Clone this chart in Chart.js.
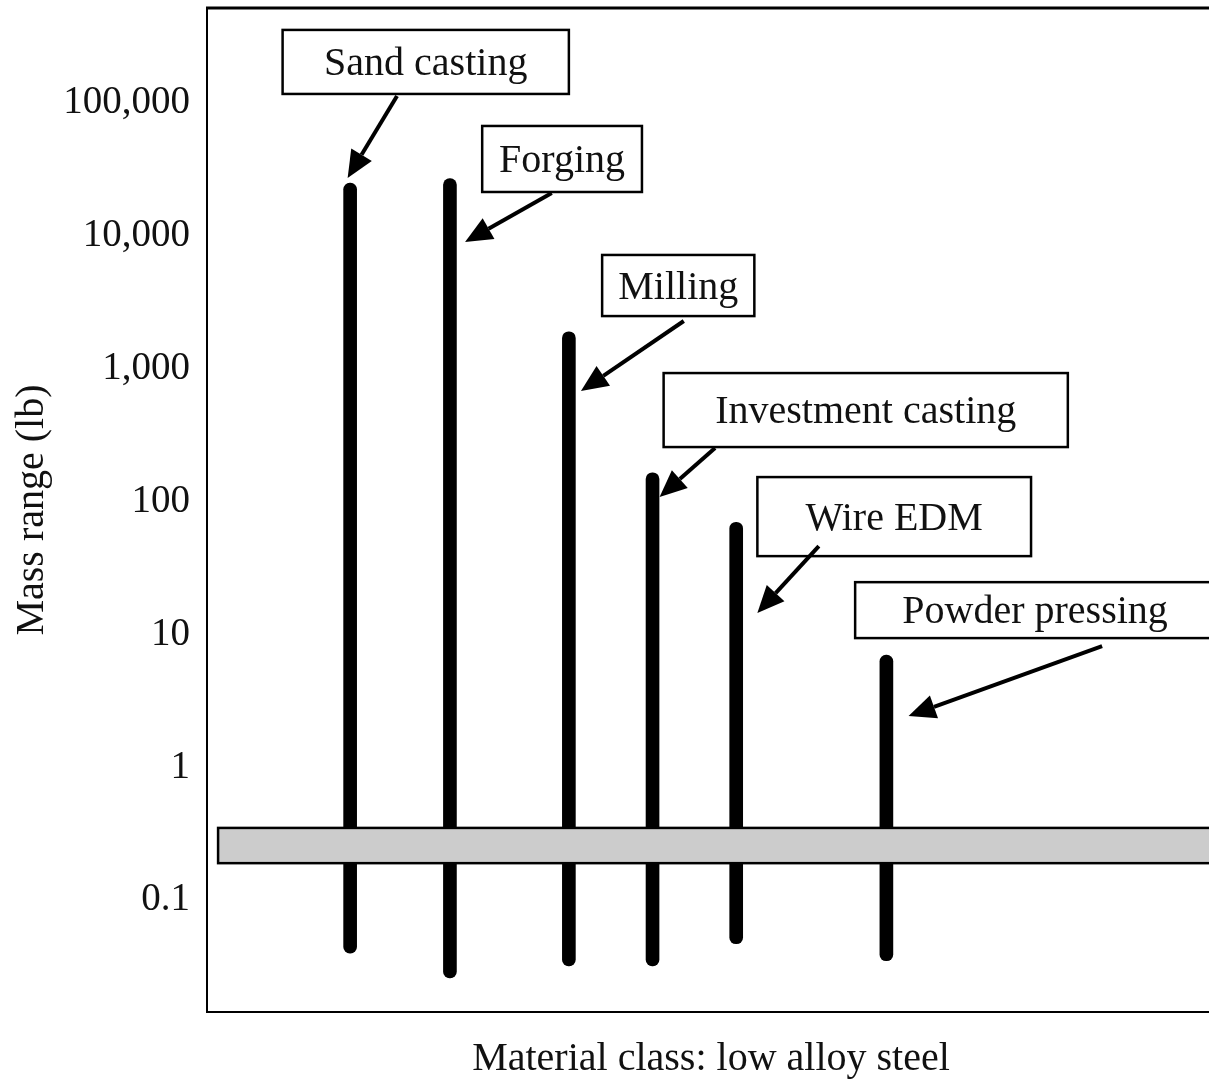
<!DOCTYPE html>
<html>
<head>
<meta charset="utf-8">
<title>Mass range by process – low alloy steel</title>
<script src="https://cdn.jsdelivr.net/npm/chart.js@4.4.1/dist/chart.umd.min.js"></script>
<style>
  html, body { margin: 0; padding: 0; background: #ffffff; overflow: hidden; }
  #wrap { width: 1225px; height: 1084px; }
</style>
</head>
<body>
<div id="wrap"><canvas id="chart" width="1225" height="1084"></canvas></div>
<script>
// Processes and the mass range (lb) each one can produce in low alloy steel
const processes = ['Sand casting', 'Forging', 'Milling', 'Investment casting', 'Wire EDM', 'Powder pressing'];
const slotPositions = [14.2, 24.1, 35.9, 44.2, 52.5, 67.4];
const massMin = [0.040, 0.026, 0.032, 0.032, 0.047, 0.035];
const massMax = [25000, 27000, 1900, 165, 70, 7];

// Required part mass (lb), shown as the shaded band
const targetRange = [0.19, 0.35];

// Y axis tick values and their printed labels
const tickValues = [0.1, 1, 10, 100, 1000, 10000, 100000];
const tickLabels = ['0.1', '1', '10', '100', '1,000', '10,000', '100,000'];

const SERIF = "'Liberation Serif', 'Times New Roman', serif";

// Callout boxes: box edges in x units / log10(mass), arrow from -> to in the same units
const callouts = [
  { box: [7.5, 35.9, 5.551, 5.069], from: [18.85, 5.054], to: [13.95, 4.437] },
  { box: [27.3, 43.15, 4.828, 4.331], from: [34.2, 4.324], to: [25.6, 3.955] },
  { box: [39.2, 54.3, 3.857, 3.397], from: [47.3, 3.360], to: [37.1, 2.833] },
  { box: [45.3, 85.4, 2.968, 2.411], from: [50.4, 2.404], to: [44.9, 2.035] },
  { box: [54.6, 81.75, 2.185, 1.590], from: [60.7, 1.666], to: [54.6, 1.161] },
  { box: [64.3, 100, 1.394, 0.973], from: [88.8, 0.913], to: [69.6, 0.386] }
];

function drawArrow(ctx, x1, y1, x2, y2) {
  const ang = Math.atan2(y2 - y1, x2 - x1);
  const headLen = 27, headHalf = 12;
  const bx = x2 - headLen * Math.cos(ang);
  const by = y2 - headLen * Math.sin(ang);
  ctx.beginPath();
  ctx.moveTo(x1, y1);
  ctx.lineTo(bx, by);
  ctx.lineWidth = 4;
  ctx.strokeStyle = '#000';
  ctx.stroke();
  ctx.beginPath();
  ctx.moveTo(x2, y2);
  ctx.lineTo(bx + headHalf * Math.sin(ang), by - headHalf * Math.cos(ang));
  ctx.lineTo(bx - headHalf * Math.sin(ang), by + headHalf * Math.cos(ang));
  ctx.closePath();
  ctx.fillStyle = '#000';
  ctx.fill();
}

const decorPlugin = {
  id: 'decor',
  afterDatasetsDraw(chart) {
    // shaded target band drawn over the process bars
    const { ctx, scales } = chart;
    const yTop = scales.y.getPixelForValue(targetRange[1]);
    const yBot = scales.y.getPixelForValue(targetRange[0]);
    const xLeft = scales.x.getPixelForValue(1.1);
    ctx.save();
    ctx.fillStyle = '#cccccc';
    ctx.fillRect(xLeft, yTop, chart.width - xLeft + 10, yBot - yTop);
    ctx.lineWidth = 2.5;
    ctx.strokeStyle = '#000';
    ctx.strokeRect(xLeft, yTop, chart.width - xLeft + 10, yBot - yTop);
    ctx.restore();
  },
  afterDraw(chart) {
    const { ctx, chartArea, scales } = chart;
    const X = v => scales.x.getPixelForValue(v);
    const Y = e => scales.y.getPixelForValue(Math.pow(10, e));
    ctx.save();
    // plot frame
    ctx.strokeStyle = '#000';
    ctx.lineWidth = 2;
    ctx.beginPath();
    ctx.moveTo(chartArea.left, chartArea.top);
    ctx.lineTo(chartArea.left, chartArea.bottom);
    ctx.lineTo(chartArea.right, chartArea.bottom);
    ctx.lineTo(chartArea.right, chartArea.top);
    ctx.stroke();
    ctx.lineWidth = 3;
    ctx.beginPath();
    ctx.moveTo(chartArea.left - 1, chartArea.top);
    ctx.lineTo(chartArea.right, chartArea.top);
    ctx.stroke();

    // labelled callouts
    ctx.font = '40px ' + SERIF;
    ctx.textAlign = 'center';
    ctx.textBaseline = 'alphabetic';
    callouts.forEach((c, i) => {
      const x0 = X(c.box[0]), x1 = X(c.box[1]);
      const y0 = Y(c.box[2]), y1 = Y(c.box[3]);
      ctx.fillStyle = '#fff';
      ctx.fillRect(x0, y0, x1 - x0, y1 - y0);
      ctx.lineWidth = 2.5;
      ctx.strokeStyle = '#000';
      ctx.strokeRect(x0, y0, x1 - x0, y1 - y0);
      ctx.fillStyle = '#111';
      ctx.fillText(processes[i], (x0 + x1) / 2, (y0 + y1) / 2 + 13);
      drawArrow(ctx, X(c.from[0]), Y(c.from[1]), X(c.to[0]), Y(c.to[1]));
    });
    ctx.restore();
  }
};

new Chart(document.getElementById('chart'), {
  type: 'bar',
  data: {
    datasets: [{
      label: 'Mass range',
      data: processes.map((p, i) => ({ x: slotPositions[i], y: [massMin[i], massMax[i]] })),
      backgroundColor: '#000',
      borderWidth: 0,
      barThickness: 13,
      borderRadius: 7,
      borderSkipped: false
    }]
  },
  options: {
    responsive: false,
    animation: false,
    devicePixelRatio: 1,
    layout: { padding: { top: 8, left: 0, right: 10, bottom: 0 } },
    plugins: {
      legend: { display: false },
      tooltip: { enabled: false }
    },
    scales: {
      x: {
        type: 'linear',
        min: 0,
        max: 100,
        offset: false,
        grid: { display: false },
        border: { display: false },
        ticks: { display: false },
        title: {
          display: true,
          text: 'Material class: low alloy steel',
          color: '#111',
          font: { family: SERIF, size: 40 },
          padding: { top: 0, bottom: 1 }
        },
        afterFit(scale) {
          scale.height = 72;
          scale.paddingLeft = 0;
          scale.paddingRight = 0;
        }
      },
      y: {
        type: 'logarithmic',
        min: 0.0144,
        max: 520000,
        grid: { display: false, drawTicks: false },
        border: { display: false },
        afterBuildTicks(scale) {
          scale.ticks = tickValues.map(v => ({ value: v, major: true }));
        },
        ticks: {
          autoSkip: false,
          padding: 17,
          color: '#111',
          font: { family: SERIF, size: 39 },
          callback: (v, i) => tickLabels[i]
        },
        title: {
          display: true,
          text: 'Mass range (lb)',
          color: '#111',
          font: { family: SERIF, size: 40 },
          padding: { top: 8, bottom: 0 }
        },
        afterFit(scale) {
          scale.width = 207;
          scale.paddingTop = 0;
          scale.paddingBottom = 0;
        }
      }
    }
  },
  plugins: [decorPlugin]
});
</script>
</body>
</html>
